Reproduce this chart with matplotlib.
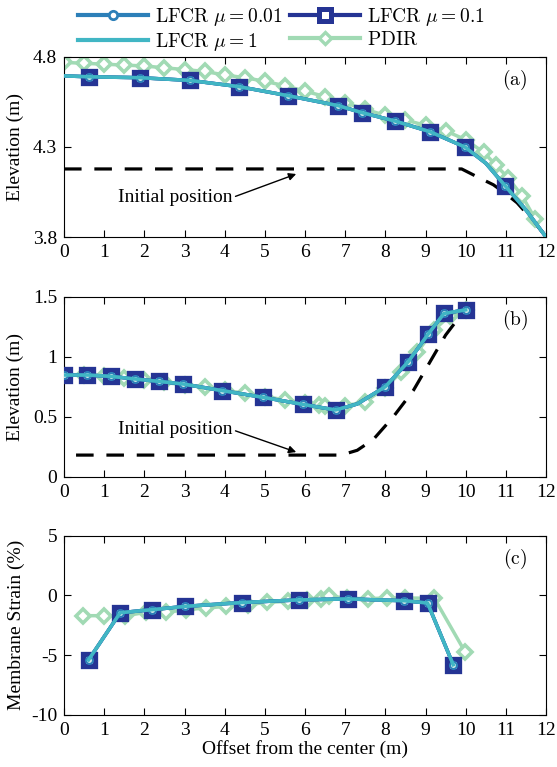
import matplotlib
matplotlib.use("Agg")
import matplotlib.pyplot as plt
from matplotlib.lines import Line2D

plt.rcParams['font.family'] = ['Liberation Serif', 'DejaVu Serif']
plt.rcParams['mathtext.fontset'] = 'cm'

# ---------------- data ----------------
# panel (a)
a_lfcr_x = [0.0, 0.63, 1.88, 3.13, 4.36, 5.58, 6.82, 7.43, 8.23, 9.11, 9.98, 10.5, 10.98, 11.5, 12.0]
a_lfcr_y = [4.695, 4.69, 4.685, 4.67, 4.635, 4.585, 4.53, 4.49, 4.445, 4.385, 4.30, 4.21, 4.085, 3.95, 3.80]
a_marks = [1, 2, 3, 4, 5, 6, 7, 8, 9, 10, 12]
a_pdir_x = [0, 0.5, 1, 1.5, 2, 2.5, 3, 3.5, 4, 4.5, 5, 5.5, 6, 6.5, 7, 7.5, 8, 8.5, 9, 9.5, 10,
            10.45, 10.75, 11.05, 11.4, 11.73]
a_pdir_y = [4.77, 4.765, 4.76, 4.755, 4.75, 4.74, 4.73, 4.72, 4.70, 4.685, 4.665, 4.64, 4.61, 4.58,
            4.545, 4.51, 4.475, 4.45, 4.42, 4.39, 4.34, 4.27, 4.20, 4.13, 4.03, 3.90]
a_init_x = [0.0, 9.9, 10.28, 10.69, 11.0, 11.28, 11.6, 11.94, 12.0]
a_init_y = [4.178, 4.178, 4.135, 4.09, 4.04, 3.99, 3.91, 3.82, 3.80]

# panel (b)
b_lfcr_x = [0.0, 0.58, 1.17, 1.77, 2.37, 2.97, 3.94, 4.96, 5.94, 6.76, 7.3, 8.0, 8.57, 9.07, 9.46, 10.0]
b_lfcr_y = [0.847, 0.847, 0.836, 0.814, 0.794, 0.772, 0.717, 0.661, 0.603, 0.556, 0.606, 0.75,
            0.958, 1.19, 1.36, 1.39]
b_marks = [0, 1, 2, 3, 4, 5, 6, 7, 8, 9, 11, 12, 13, 14, 15]
b_pdir_x = [0, 0.5, 1.0, 1.5, 2.0, 2.5, 3.0, 3.5, 4.0, 4.5, 5.0, 5.5, 6.0, 6.35, 6.5, 7.0, 7.5,
            8.0, 8.4, 8.8, 9.2, 9.6, 10.0]
b_pdir_y = [0.85, 0.85, 0.84, 0.825, 0.805, 0.785, 0.765, 0.745, 0.72, 0.695, 0.668, 0.64, 0.61,
            0.595, 0.585, 0.59, 0.625, 0.74, 0.875, 1.04, 1.22, 1.34, 1.39]
b_init_x = [0.3, 6.9, 7.3, 7.7, 8.2, 8.7, 9.1, 9.5, 10.0]
b_init_y = [0.18, 0.18, 0.22, 0.31, 0.50, 0.72, 0.95, 1.18, 1.40]

# panel (c)
c_lfcr_x = [0.61, 1.4, 2.19, 3.02, 4.44, 5.84, 7.07, 8.47, 9.05, 9.69]
c_lfcr_y = [-5.4, -1.45, -1.2, -0.92, -0.6, -0.38, -0.3, -0.45, -0.64, -5.8]
c_pdir_x = [0.48, 1.0, 1.53, 2.03, 2.53, 3.03, 3.53, 4.04, 4.57, 5.05, 5.57, 6.05, 6.4, 6.6,
            7.05, 7.57, 8.03, 8.48, 9.22, 9.98]
c_pdir_y = [-1.7, -1.7, -1.7, -1.43, -1.43, -1.2, -1.06, -0.92, -0.78, -0.59, -0.5, -0.36, -0.3,
            -0.05, -0.25, -0.28, -0.22, -0.22, -0.25, -4.7]

x_ticks = list(range(0, 13))
a_yticks = [3.8, 4.3, 4.8]
b_yticks = [0, 0.5, 1, 1.5]
c_yticks = [-10, -5, 0, 5]
labels = [r'$\mathrm{LFCR}\ \mu = 0.01$', r'$\mathrm{LFCR}\ \mu = 0.1$',
          r'$\mathrm{LFCR}\ \mu = 1$', r'$\mathrm{PDIR}$']

# ---------------- styles ----------------
C001 = '#2c7fb8'
C01 = '#253494'
C1 = '#41b6c4'
CP = '#a1dab4'
LW = 2.5
FS = 14

fig = plt.figure(figsize=(5.57, 7.67), dpi=100)
axA = fig.add_axes([0.1149, 0.6910, 0.8654, 0.2347])
axB = fig.add_axes([0.1149, 0.3785, 0.8654, 0.2347])
axC = fig.add_axes([0.1149, 0.0678, 0.8654, 0.2340])


def draw(ax, lx, ly, marks, px, py):
    ax.plot(px, py, color=CP, lw=LW, marker='D', ms=7, mfc='white', mec=CP, mew=2.6, zorder=2)
    ax.plot(lx, ly, color=C01, lw=LW, marker='s', ms=9.2, mfc='white', mec=C01, mew=3.8,
            markevery=marks, zorder=3)
    ax.plot(lx, ly, color=C001, lw=LW, marker='o', ms=5, mfc='#d8f0ea', mec=C001, mew=1.5,
            markevery=marks, zorder=4)
    ax.plot(lx, ly, color=C1, lw=LW, zorder=5)


draw(axA, a_lfcr_x, a_lfcr_y, a_marks, a_pdir_x, a_pdir_y)
draw(axB, b_lfcr_x, b_lfcr_y, b_marks, b_pdir_x, b_pdir_y)
draw(axC, c_lfcr_x, c_lfcr_y, list(range(len(c_lfcr_x))), c_pdir_x, c_pdir_y)

axA.plot(a_init_x, a_init_y, color='k', lw=2.3, ls=(0, (5.5, 4)), zorder=1)
axB.plot(b_init_x, b_init_y, color='k', lw=2.3, ls=(0, (5.5, 4)), zorder=1)

arrow = dict(arrowstyle='-|>', color='k', lw=1.0, mutation_scale=11, shrinkA=0, shrinkB=0,
             relpos=(1.0, 0.5))
axA.annotate('Initial position', xy=(5.78, 4.15), xytext=(4.2, 4.02), ha='right', va='center',
             fontsize=FS, arrowprops=arrow)
axB.annotate('Initial position', xy=(5.78, 0.205), xytext=(4.2, 0.39), ha='right', va='center',
             fontsize=FS, arrowprops=arrow)

for ax, yt, lim, tag in [(axA, a_yticks, (3.8, 4.8), '(a)'),
                         (axB, b_yticks, (0, 1.5), '(b)'),
                         (axC, c_yticks, (-10, 5), '(c)')]:
    ax.set_xlim(0, 12)
    ax.set_ylim(*lim)
    ax.set_xticks(x_ticks)
    ax.set_yticks(yt)
    ax.set_yticklabels([('%g' % v) for v in yt])
    ax.tick_params(direction='in', top=True, right=True, length=5, width=0.8,
                   labelsize=FS, pad=5)
    for s in ax.spines.values():
        s.set_linewidth(0.8)
    ax.text(0.935, 0.87, r'$\mathrm{' + tag + '}$', transform=ax.transAxes, fontsize=FS,
            ha='center', va='center')

axA.set_ylabel('Elevation (m)', fontsize=FS, labelpad=6)
axB.set_ylabel('Elevation (m)', fontsize=FS, labelpad=6)
axC.set_ylabel('Membrane Strain (%)', fontsize=FS, labelpad=4)
axC.set_xlabel('Offset from the center (m)', fontsize=FS, labelpad=1)

h001 = Line2D([], [], color=C001, lw=3, marker='o', ms=6, mfc='white', mec=C001, mew=2)
h01 = Line2D([], [], color=C01, lw=3, marker='s', ms=9, mfc='white', mec=C01, mew=3.6)
h1 = Line2D([], [], color=C1, lw=3)
hp = Line2D([], [], color=CP, lw=3, marker='D', ms=6.5, mfc='white', mec=CP, mew=2.4)
# matplotlib fills legend columns first: order so rows read (0.01, 0.1) / (1, PDIR)
fig.legend([h001, h1, h01, hp], [labels[0], labels[2], labels[1], labels[3]],
           loc='upper center', bbox_to_anchor=(0.505, 1.01), ncol=2,
           frameon=False, fontsize=FS, handlelength=3.6, handletextpad=0.35,
           columnspacing=0.4, labelspacing=0.15, borderpad=0.2)

fig.savefig('out.png', dpi=100)
